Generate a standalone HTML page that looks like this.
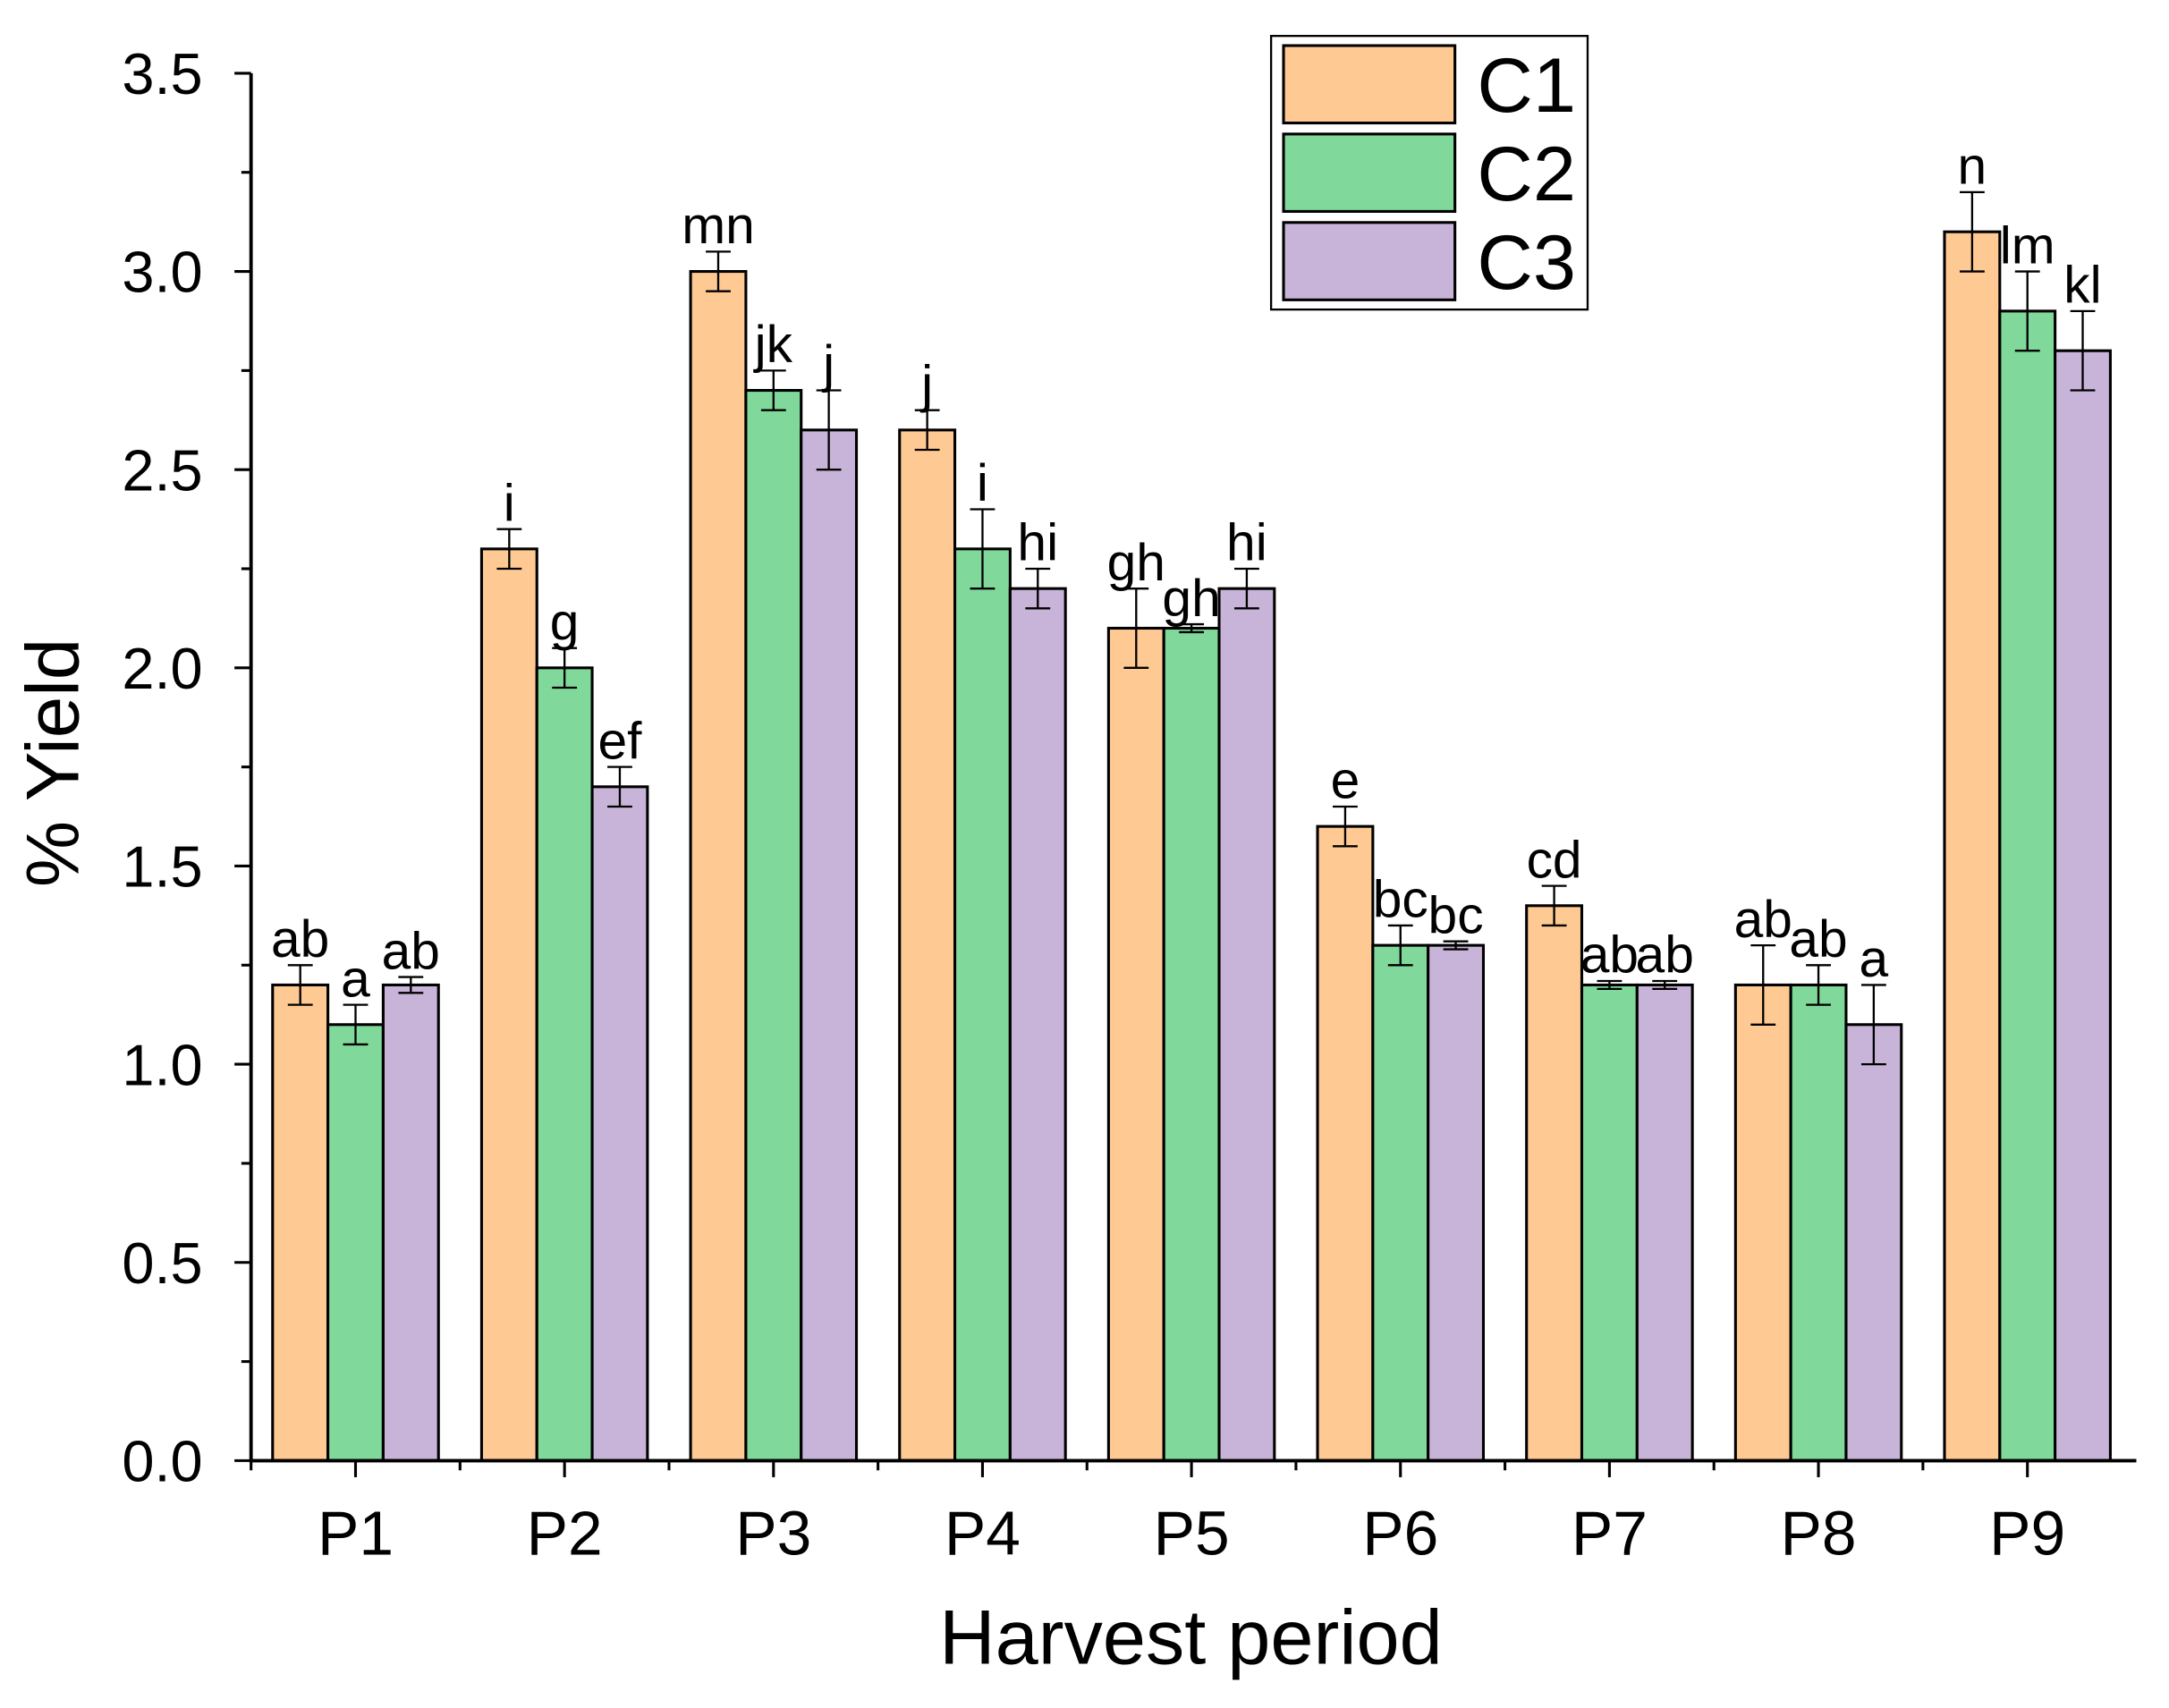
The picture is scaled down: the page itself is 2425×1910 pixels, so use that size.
<!DOCTYPE html>
<html><head><meta charset="utf-8"><style>html,body{margin:0;padding:0;background:#fff}svg{display:block}text{font-family:"Liberation Sans",sans-serif;fill:#000}</style></head>
<body>
<svg id="chart" width="2425" height="1910" viewBox="0 0 1568 1236" xmlns="http://www.w3.org/2000/svg">
<g id="g"></g>
</svg>
<script>
const categories = ["P1","P2","P3","P4","P5","P6","P7","P8","P9"];
const seriesNames = ["C1","C2","C3"];
const c1 = [1.2,2.3,3.0,2.6,2.1,1.6,1.4,1.2,3.1];
const c2 = [1.1,2.0,2.7,2.3,2.1,1.3,1.2,1.2,2.9];
const c3 = [1.2,1.7,2.6,2.2,2.2,1.3,1.2,1.1,2.8];
const e1 = [0.05,0.05,0.05,0.05,0.1,0.05,0.05,0.1,0.1];
const e2 = [0.05,0.05,0.05,0.1,0.01,0.05,0.01,0.05,0.1];
const e3 = [0.02,0.05,0.1,0.05,0.05,0.01,0.01,0.1,0.1];
const l1 = ["ab","i","mn","j","gh","e","cd","ab","n"];
const l2 = ["a","g","jk","i","gh","bc","ab","ab","lm"];
const l3 = ["ab","ef","j","hi","hi","bc","ab","a","kl"];
const yTicks = [0,0.5,1.0,1.5,2.0,2.5,3.0,3.5];
const colors = ["#FFC993","#80D99A","#C8B4D8"];
const NS="http://www.w3.org/2000/svg", g=document.getElementById('g');
const X0=181, X1=1545, Y0=1057, Y1=53, YMAX=3.5, band=151.2, bw=40;
const y = v => Y0-(v/YMAX)*(Y0-Y1);
const xc = i => X0+(i+0.5)*band;
function mk(t,a,txt){const e=document.createElementNS(NS,t);for(const k in a)e.setAttribute(k,a[k]);if(txt!=null)e.textContent=txt;g.appendChild(e);return e;}
const vals=[c1,c2,c3], errs=[e1,e2,e3], lets=[l1,l2,l3];
categories.forEach((c,i)=>{
  for(let s=0;s<3;s++){
    const x=xc(i)-60+s*bw, v=vals[s][i], er=errs[s][i];
    const r=mk('rect',{x:x,y:y(v),width:bw,height:Y0-y(v),fill:colors[s],stroke:'#000','stroke-width':2});
    
    
    const cx=x+bw/2;
    const eb=mk('path',{d:`M${cx},${y(v+er)}V${y(v-er)}M${cx-9},${y(v+er)}H${cx+9}M${cx-9},${y(v-er)}H${cx+9}`,stroke:'#000','stroke-width':1.5,fill:'none'});
    
    
    const t=mk('text',{x:cx,y:y(v+er)-6,'text-anchor':'middle','font-size':38},lets[s][i]);
    
    
  }
  const tk=mk('line',{x1:xc(i),x2:xc(i),y1:Y0,y2:Y0+12,stroke:'#000','stroke-width':2});
  
  
  const mt=mk('line',{x1:X0+i*band,x2:X0+i*band,y1:Y0,y2:Y0+7,stroke:'#000','stroke-width':2});
  
  
  const tl=mk('text',{x:xc(i),y:1125,'text-anchor':'middle','font-size':45},c);
  
  
});
yTicks.forEach((v,k)=>{
  const t=mk('line',{x1:X0-12,x2:X0,y1:y(v),y2:y(v),stroke:'#000','stroke-width':2});
  
  
  if(k<yTicks.length-1){const m=mk('line',{x1:X0-7,x2:X0,y1:y(v+0.25),y2:y(v+0.25),stroke:'#000','stroke-width':2});
  
  }
  const l=mk('text',{x:146,y:y(v)+15,'text-anchor':'end','font-size':42},v.toFixed(1));
  
  
});
const ax=mk('path',{d:`M${X0},${Y1}V${Y0}H${X1}`,stroke:'#000','stroke-width':2.5,fill:'none'});


const xt=mk('text',{x:861,y:1204,'text-anchor':'middle','font-size':56},'Harvest period');


const yt=mk('text',{x:0,y:0,'text-anchor':'middle','font-size':54,transform:'translate(56,552) rotate(-90)'},'% Yield');


const lb=mk('rect',{x:919,y:26,width:229,height:198,fill:'#fff',stroke:'#000','stroke-width':1.5});


seriesNames.forEach((n,s)=>{
  const p=mk('rect',{x:928,y:33+s*64,width:124,height:56,fill:colors[s],stroke:'#000','stroke-width':2});
  
  
  const t=mk('text',{x:1068,y:81+s*64,'font-size':56},n);
  
  
});
</script>
</body></html>
